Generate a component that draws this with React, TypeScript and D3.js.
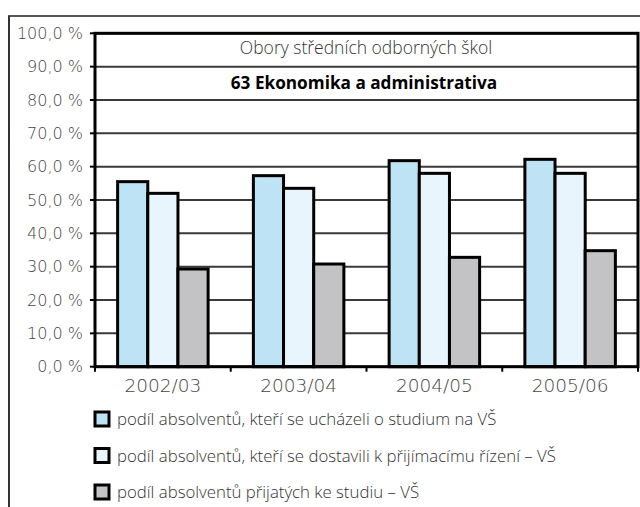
import React from "react";
import * as d3 from "d3";

const categories = ["2002/03", "2003/04", "2004/05", "2005/06"];
const seriesNames = [
  "podíl absolventů, kteří se ucházeli o studium na VŠ",
  "podíl absolventů, kteří se dostavili k přijímacímu řízení – VŠ",
  "podíl absolventů přijatých ke studiu – VŠ",
];
const applied = [55.5, 57.3, 61.8, 62.2];
const attended = [52.0, 53.5, 58.0, 58.0];
const admitted = [29.3, 30.8, 32.8, 34.8];
const seriesColors = ["#BDE3F4", "#E9F5FC", "#C3C3C5"];
const yTicks = [0, 10, 20, 30, 40, 50, 60, 70, 80, 90, 100];
const subtitle = "Obory středních odborných škol";
const fieldTitle = "63 Ekonomika a administrativa";

const FONT = "'Open Sans', 'Noto Sans', sans-serif";
const NUMFONT = "'DejaVu Sans', sans-serif";

export default function App() {
  const W = 640, H = 507;
  const left = 95, right = 638, top = 33.3, bottom = 366.7;
  const data = [applied, attended, admitted];
  const x = d3.scaleBand<string>().domain(categories).range([left, right]).paddingInner(0).paddingOuter(0);
  const bw = x.bandwidth();
  const xs = d3.scaleBand<number>().domain([0, 1, 2]).range([bw / 6, bw * 5 / 6]);
  const y = d3.scaleLinear().domain([0, 100]).range([bottom, top]);
  const fmt = (v: number) => v.toFixed(1).replace(".", ",") + " %";

  return (
    <svg width={W} height={H} style={{ position: "absolute", left: 0, top: 0, background: "#fff" }}>
      <rect x={0} y={0} width={W} height={H} fill="#fff" />
      <line x1={8} x2={W} y1={16} y2={16} stroke="#555" strokeWidth={2} />
      <line x1={9} x2={9} y1={16} y2={H} stroke="#333" strokeWidth={2} />
      {yTicks.map((t) => (
        <line key={"g" + t} x1={left} x2={right} y1={y(t)} y2={y(t)} stroke="#3a3a3a" strokeWidth={2} />
      ))}
      {yTicks.map((t) => (
        <g key={"t" + t}>
          <line x1={left - 5} x2={left} y1={y(t)} y2={y(t)} stroke="#000" strokeWidth={2} />
          <text x={83} y={y(t)} dy="0.36em" textAnchor="end" fontFamily={NUMFONT} fontSize={16} fontWeight={300} fill="#444">
            {fmt(t)}
          </text>
        </g>
      ))}
      <text x={366} y={54} textAnchor="middle" fontFamily={FONT} fontSize={17.5} fontWeight={300} fill="#333">{subtitle}</text>
      <text x={364} y={89} textAnchor="middle" fontFamily={FONT} fontSize={17.2} fontWeight={700} fill="#000">{fieldTitle}</text>
      {categories.map((c, i) => (
        <g key={c} transform={`translate(${x(c)},0)`}>
          {data.map((s, k) => (
            <rect key={k} x={xs(k)} width={xs.bandwidth()} y={y(s[i])} height={y(0) - y(s[i])}
              fill={seriesColors[k]} stroke="#000" strokeWidth={3} />
          ))}
        </g>
      ))}
      <rect x={left} y={top} width={right - left} height={bottom - top} fill="none" stroke="#000" strokeWidth={3} />
      {[...categories.map((c) => x(c) as number), right].map((v, i) => (
        <line key={"xt" + i} x1={v} x2={v} y1={bottom} y2={bottom + 5} stroke="#000" strokeWidth={2} />
      ))}
      {categories.map((c) => (
        <text key={"xl" + c} x={(x(c) as number) + bw / 2} y={392} textAnchor="middle" fontFamily={NUMFONT} fontSize={18.5} fontWeight={300} fill="#444">
          {c}
        </text>
      ))}
      {seriesNames.map((n, k) => {
        const cy = 419 + k * 36.5;
        return (
          <g key={"lg" + k}>
            <rect x={95} y={cy - 7} width={14} height={14} fill={seriesColors[k]} stroke="#000" strokeWidth={3} />
            <text x={117} y={cy} dy="0.36em" fontFamily={FONT} fontSize={16.8} fontWeight={300} fill="#333">{n}</text>
          </g>
        );
      })}
    </svg>
  );
}
